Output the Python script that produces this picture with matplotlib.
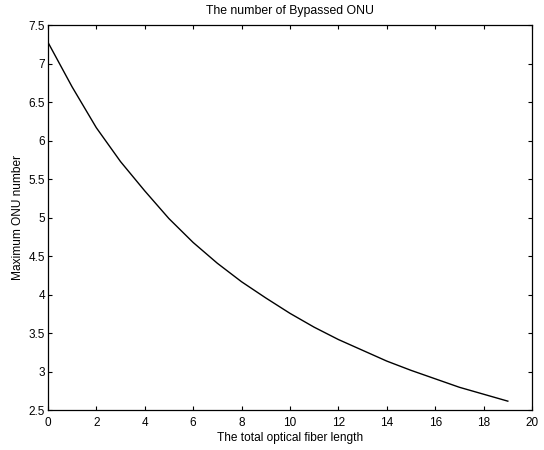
import matplotlib.pyplot as plt
import numpy as np

plt.rcParams['font.family'] = ['Liberation Sans', 'DejaVu Sans']

# fiber length (km) and max number of ONUs
fiber_length = np.arange(0, 20)
max_onu = [7.28, 6.70, 6.17, 5.73, 5.35, 4.99, 4.68, 4.41, 4.17, 3.96,
           3.76, 3.58, 3.42, 3.28, 3.14, 3.02, 2.91, 2.80, 2.71, 2.62]

x_ticks = [0, 2, 4, 6, 8, 10, 12, 14, 16, 18, 20]
y_ticks = [2.5, 3, 3.5, 4, 4.5, 5, 5.5, 6, 6.5, 7, 7.5]

fig = plt.figure(figsize=(5.44, 4.5), dpi=100)
ax = fig.add_axes([0.088, 0.088, 0.89, 0.856])

ax.plot(fiber_length, max_onu, color='black', linewidth=1.0)

ax.set_xlim(0, 20)
ax.set_ylim(2.5, 7.5)
ax.set_xticks(x_ticks)
ax.set_yticks(y_ticks)
ax.set_yticklabels([('%g' % v) for v in y_ticks])
ax.tick_params(direction='in', length=3, width=0.8, labelsize=8.5,
               top=True, right=True, colors='black')
ax.tick_params(axis='x', pad=5)
ax.tick_params(axis='y', pad=2)
for s in ax.spines.values():
    s.set_linewidth(0.9)

ax.set_title('The number of Bypassed ONU', fontsize=8.8, pad=8)
ax.set_xlabel('The total optical fiber length', fontsize=8.6, labelpad=2)
ax.set_ylabel('Maximum ONU number', fontsize=8.6, labelpad=3)

fig.savefig('out.png', dpi=100)
